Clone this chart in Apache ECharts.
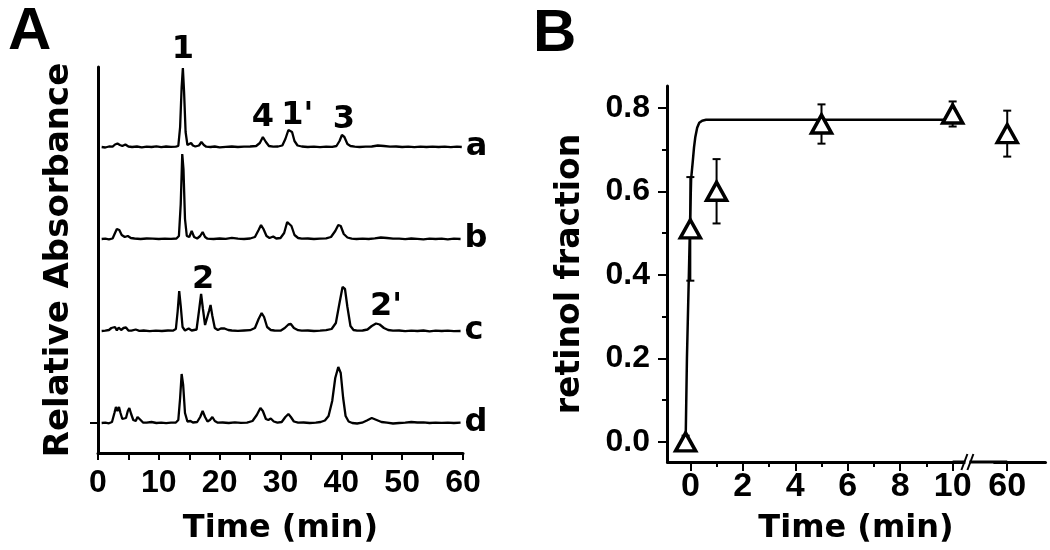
<!DOCTYPE html>
<html>
<head>
<meta charset="utf-8">
<script src="https://cdn.jsdelivr.net/npm/echarts@6.0.0/dist/echarts.min.js"></script>
<style>
  html, body { margin: 0; padding: 0; background: #fff; }
  #chart { width: 1050px; height: 550px; }
</style>
</head>
<body>
<div id="chart"></div>
<script>
// ---- panel A: HPLC traces, [time (min), signal] ----
const traceA = [[0.6,0],[1.2,-0.5],[1.8,0.5],[2.4,0.3],[2.8,2.5],[3.2,3.5],[3.6,2],[4.0,1],[4.5,2.5],[5.0,0.5],[5.6,0],[6.4,0.5],[7.2,-0.3],[8.0,0.3],[8.8,0],[9.6,0.6],[10.4,-0.2],[11.2,0.5],[12.0,0.2],[12.8,0.3],[13.2,1],[13.5,20],[13.75,60],[13.95,79],[14.15,55],[14.4,15],[14.7,2],[15.0,1],[15.3,4],[15.6,1.5],[16.0,0.5],[16.6,1.5],[17.0,5],[17.4,2],[17.8,0.3],[18.5,0],[19.2,0.5],[20,-0.3],[21,0.2],[22,0.5],[23,0],[24,0.3],[25,0.5],[26,1],[26.6,4],[27.1,10],[27.6,5],[28.1,1],[28.8,0.3],[29.6,0.5],[30.3,1.5],[30.8,8],[31.3,17],[31.6,19],[31.9,15],[32.3,6],[32.8,1.5],[33.5,0.5],[34.5,0],[35.5,0.3],[36.5,-0.2],[37.5,0.3],[38.5,0.2],[39.2,1],[39.7,6],[40.1,12],[40.5,10],[41,3],[41.5,1],[42.2,0.3],[43,0],[44,0.3],[45,0.5],[46,1.5],[47,1],[48,0.3],[49,0.5],[50,0],[51,0.4],[52,-0.2],[53,0.3],[54,0],[55,0.4],[56,0],[57,0.3],[58,-0.2],[59,0.3],[59.8,0]];
const traceB = [[0.6,0],[1.2,0.3],[1.8,-0.3],[2.4,0.5],[2.8,6],[3.1,10],[3.5,9],[3.9,4],[4.4,2],[4.9,3],[5.4,1],[6,0.5],[7,0],[8,0.5],[9,0.3],[10,0],[11,0.4],[12,0.2],[12.9,0.5],[13.3,3],[13.6,35],[13.85,85],[14.05,70],[14.3,20],[14.6,3],[15.0,2],[15.4,8],[15.8,2],[16.3,0.5],[16.8,3],[17.2,7],[17.6,2],[18.0,0.3],[19,0],[20,0.5],[21,0.2],[22,1.2],[23,0.3],[24,0],[25,0.5],[25.8,2],[26.4,9],[26.8,14],[27.2,10],[27.7,3],[28.2,1],[28.8,2.5],[29.3,0.5],[30,1],[30.6,6],[31.1,17],[31.4,19],[31.8,13],[32.3,4],[32.9,1],[33.5,0.3],[34.5,0.5],[35.5,0],[36.5,0.3],[37.5,0.6],[38.3,2],[39.0,8],[39.5,14],[39.9,13],[40.4,5],[41,1.5],[41.7,0.3],[42.5,0],[43.5,0.4],[44.5,0],[45.5,0.6],[46.5,1.5],[47.5,1],[48.5,0.3],[49.5,0.4],[50.5,-0.2],[51.5,0.5],[52.5,0.2],[53.5,-0.3],[54.5,0.4],[55.5,0],[56.5,0.3],[57.5,-0.3],[58.5,0.3],[59.6,0]];
const traceC = [[0.6,0],[1.2,0.3],[1.8,1],[2.2,3],[2.5,1],[2.8,4],[3.1,0.5],[3.4,3.5],[3.8,1],[4.2,3],[4.6,3.5],[5.0,0.5],[5.5,0.3],[6.2,1.5],[6.8,0.2],[7.5,0.5],[8.5,-0.2],[9.5,0.3],[10.5,0],[11.5,0.5],[12.3,0.3],[12.8,2],[13.1,20],[13.35,40],[13.6,25],[13.9,4],[14.3,0.5],[14.9,2.5],[15.4,0.5],[16.2,1.5],[16.6,20],[16.95,37],[17.25,22],[17.6,6],[17.9,8],[18.25,20],[18.5,26],[18.8,15],[19.2,3],[19.7,1],[20.2,2.5],[20.8,2.5],[21.4,1],[22,0.5],[23,0.2],[24,0.5],[25,0.8],[25.8,3],[26.4,12],[26.9,18],[27.3,14],[27.8,4],[28.4,1],[29,0.5],[30,0.3],[30.7,3],[31.3,6.5],[31.7,7],[32.2,3],[32.9,0.8],[33.5,0.3],[34.5,0.5],[35.5,0],[36.5,0.3],[37.5,0.8],[38.4,2],[39.1,8],[39.7,28],[40.2,44],[40.6,42],[41,24],[41.5,5],[42,1],[42.6,0.3],[43.5,0.5],[44.3,1.5],[45,5],[45.7,7.5],[46.3,6.5],[47,3],[47.7,1],[48.5,0.3],[49.5,0.5],[50.5,-0.2],[51.5,0.4],[52.5,0],[53.5,0.5],[54.5,-0.3],[55.5,0.3],[56.5,0],[57.5,0.4],[58.5,-0.2],[59.6,0]];
const traceD = [[0.6,0],[1.2,0.3],[1.8,-0.3],[2.3,1],[2.7,10],[2.95,16],[3.2,12],[3.45,16],[3.7,10],[4.0,4],[4.3,3],[4.6,5],[4.9,12],[5.15,15],[5.45,9],[5.8,3],[6.2,2],[6.5,6],[6.75,8],[7.0,3],[7.4,0.5],[8,0.3],[8.8,1],[9.6,0],[10.4,0.4],[11.2,-0.2],[12,0.3],[12.8,0.5],[13.2,3],[13.5,25],[13.75,49],[14.0,38],[14.3,10],[14.7,1.5],[15.2,2],[15.6,0.5],[16.3,1],[16.8,6],[17.2,12],[17.6,6],[18.0,1.5],[18.4,3],[18.8,6],[19.2,2],[19.7,0.3],[20.5,0.5],[21.5,0],[22.5,0.6],[23.5,0.2],[24.5,0.4],[25.4,2],[26.1,8],[26.7,15],[27.1,12],[27.6,4],[28.0,3],[28.4,4.5],[28.9,1.5],[29.5,0.3],[30.2,1],[30.8,6],[31.3,9],[31.7,6],[32.2,1.5],[32.9,0.3],[33.8,0.5],[34.8,0],[35.8,0.4],[36.6,1],[37.3,2.5],[37.9,7],[38.5,22],[39.0,45],[39.5,56],[39.9,50],[40.3,25],[40.7,7],[41.2,1.5],[41.8,0],[42.6,-0.5],[43.4,0.3],[44.2,2.5],[45,5],[45.8,3],[46.6,1],[47.5,0.3],[48.5,-0.5],[49.5,0],[50.5,0.3],[51.5,1],[52.5,0.5],[53.5,0.6],[54.5,0],[55.5,0.4],[56.5,0.2],[57.5,0.4],[58.5,0],[59.6,0.3]];
const traceNames = ['a', 'b', 'c', 'd'];
const traces = [traceA, traceB, traceC, traceD];
const traceOffsets = [276, 184, 92, 0];   // vertical stacking of the traces
// peak names: [text, trace, retention time]
const peakTags = [['1', 'a', 13.95], ['4', 'a', 27.1], ["1'", 'a', 31.6], ['3', 'a', 40.1], ['2', 'c', 16.95], ["2'", 'c', 45.7]];
const tagOffsets = { '1': [0, -18], '4': [0, -19], "1'": [7, -12], '3': [2, -15], '2': [2, -14], "2'": [10, -17] };

// ---- panel B: retinol fraction vs time ----
const timeB = [-0.18, 0, 1, 5, 10, 60];
const fractionB = [0.0, 0.51, 0.60, 0.761, 0.785, 0.738];
const errorB = [0.015, 0.124, 0.077, 0.047, 0.03, 0.055];
const fitT = [-0.18, -0.13, -0.06, -0.01, 0.03, 0.09, 0.14, 0.19, 0.26, 0.34, 0.45, 0.6, 10.35];
const fitY = [0.0, 0.2, 0.39, 0.53, 0.63, 0.67, 0.705, 0.73, 0.752, 0.764, 0.769, 0.771, 0.771];
const xLabelsB = [0, 2, 4, 6, 8, 10, 60];
const xMinorB = [1, 3, 5, 7, 9];
const yLabelsB = [0, 0.2, 0.4, 0.6, 0.8];
const yMinorB = [0.1, 0.3, 0.5, 0.7];

const titleFont = 'DejaVu Sans';
const tickFont = 'Liberation Sans';
const breakB = [{ start: 10.5, end: 59.5, gap: '7.5%' }];

let chart = echarts.init(document.getElementById('chart'));

let seriesA = traces.map(function (tr, i) {
  let name = traceNames[i];
  let off = traceOffsets[i];
  let tags = peakTags.filter(function (p) { return p[1] === name; }).map(function (p) {
    let pt = tr.find(function (q) { return q[0] === p[2]; });
    return {
      coord: [p[2], pt[1] + off],
      label: { formatter: p[0], offset: tagOffsets[p[0]] }
    };
  });
  return {
    name: name,
    type: 'line',
    xAxisIndex: 0,
    yAxisIndex: 0,
    data: tr.map(function (q) { return [q[0], q[1] + off]; }),
    symbol: 'none',
    clip: false,
    lineStyle: { color: '#000', width: 2.3 },
    endLabel: {
      show: true,
      formatter: name,
      distance: 4,
      color: '#000',
      fontFamily: titleFont,
      fontWeight: 'bold',
      fontSize: 32
    },
    markPoint: {
      symbol: 'circle',
      symbolSize: 0,
      silent: true,
      label: {
        show: true,
        position: 'inside',
        color: '#000',
        fontFamily: titleFont,
        fontWeight: 'bold',
        fontSize: 32
      },
      data: tags
    }
  };
});

let option = {
  animation: false,
  backgroundColor: '#fff',
  textStyle: { fontFamily: tickFont },
  grid: [
    { left: 98, top: 67, width: 365, height: 386 },
    { left: 667, top: 86, width: 378, height: 378 }
  ],
  xAxis: [
    {
      gridIndex: 0,
      type: 'value',
      min: 0,
      max: 60,
      interval: 5,
      name: 'Time (min)',
      nameLocation: 'middle',
      nameGap: 60,
      nameTextStyle: { fontFamily: titleFont, fontWeight: 'bold', fontSize: 32, color: '#000' },
      axisLine: { onZero: false, lineStyle: { color: '#000', width: 3 } },
      axisTick: { length: 7, lineStyle: { color: '#000', width: 2 } },
      axisLabel: {
        margin: 14,
        color: '#000',
        fontFamily: tickFont,
        fontWeight: 'bold',
        fontSize: 32,
        formatter: function (v) { return v % 10 === 0 ? v : ''; }
      },
      splitLine: { show: false }
    },
    {
      gridIndex: 1,
      type: 'value',
      min: -0.89,
      max: 61.44,
      breaks: breakB,
      breakArea: { show: false },
      name: 'Time (min)',
      nameLocation: 'middle',
      nameGap: 51,
      nameTextStyle: { fontFamily: titleFont, fontWeight: 'bold', fontSize: 32, color: '#000' },
      axisLine: { onZero: false, lineStyle: { color: '#000', width: 3 } },
      axisTick: { customValues: xLabelsB, length: 9, lineStyle: { color: '#000', width: 2 } },
      axisLabel: {
        customValues: xLabelsB,
        margin: 8,
        color: '#000',
        fontFamily: tickFont,
        fontWeight: 'bold',
        fontSize: 34
      },
      splitLine: { show: false }
    },
    {
      gridIndex: 1,
      type: 'value',
      position: 'bottom',
      min: -0.89,
      max: 61.44,
      breaks: breakB,
      breakArea: { show: false },
      axisLine: { show: false, onZero: false },
      axisTick: { customValues: xMinorB, length: 5, lineStyle: { color: '#000', width: 2 } },
      axisLabel: { show: false },
      splitLine: { show: false }
    }
  ],
  yAxis: [
    {
      gridIndex: 0,
      type: 'value',
      min: -30,
      max: 356,
      name: 'Relative Absorbance',
      nameLocation: 'middle',
      nameGap: 22,
      nameTextStyle: { fontFamily: titleFont, fontWeight: 'bold', fontSize: 34, color: '#000' },
      axisLine: { show: true, onZero: false, lineStyle: { color: '#000', width: 3 } },
      axisTick: { show: true, customValues: [0], length: 8, lineStyle: { color: '#000', width: 2 } },
      axisLabel: { show: false },
      splitLine: { show: false }
    },
    {
      gridIndex: 1,
      type: 'value',
      min: -0.048,
      max: 0.852,
      name: 'retinol fraction',
      nameLocation: 'middle',
      nameGap: 80,
      nameTextStyle: { fontFamily: titleFont, fontWeight: 'bold', fontSize: 33, color: '#000' },
      axisLine: { show: true, onZero: false, lineStyle: { color: '#000', width: 3 } },
      axisTick: { show: true, customValues: yLabelsB, length: 9, lineStyle: { color: '#000', width: 2 } },
      axisLabel: {
        customValues: yLabelsB,
        margin: 17,
        color: '#000',
        fontFamily: tickFont,
        fontWeight: 'bold',
        fontSize: 32,
        formatter: function (v) { return v.toFixed(1); }
      },
      splitLine: { show: false }
    },
    {
      gridIndex: 1,
      type: 'value',
      position: 'left',
      min: -0.048,
      max: 0.852,
      axisLine: { show: false, onZero: false },
      axisTick: { show: true, customValues: yMinorB, length: 5, lineStyle: { color: '#000', width: 2 } },
      axisLabel: { show: false },
      splitLine: { show: false }
    }
  ],
  series: seriesA.concat([
    {
      name: 'fit',
      type: 'line',
      xAxisIndex: 1,
      yAxisIndex: 1,
      data: fitT.map(function (t, i) { return [t, fitY[i]]; }),
      symbol: 'none',
      lineStyle: { color: '#000', width: 2.5 },
      z: 2
    },
    {
      name: 'error',
      type: 'custom',
      xAxisIndex: 1,
      yAxisIndex: 1,
      data: timeB.map(function (t, i) { return [t, fractionB[i] - errorB[i], fractionB[i] + errorB[i]]; }),
      encode: { x: 0, y: [1, 2] },
      renderItem: function (params, api) {
        let t = api.value(0);
        let p1 = api.coord([t, api.value(2)]);
        let p2 = api.coord([t, api.value(1)]);
        let w = 4;
        let st = { stroke: '#000', lineWidth: 2 };
        return {
          type: 'group',
          children: [
            { type: 'line', shape: { x1: p1[0], y1: p1[1], x2: p2[0], y2: p2[1] }, style: st },
            { type: 'line', shape: { x1: p1[0] - w, y1: p1[1], x2: p1[0] + w, y2: p1[1] }, style: st },
            { type: 'line', shape: { x1: p2[0] - w, y1: p2[1], x2: p2[0] + w, y2: p2[1] }, style: st }
          ]
        };
      },
      z: 3
    },
    {
      name: 'retinol',
      type: 'scatter',
      xAxisIndex: 1,
      yAxisIndex: 1,
      data: timeB.map(function (t, i) { return [t, fractionB[i]]; }),
      symbol: 'triangle',
      symbolSize: [20, 18],
      itemStyle: { color: '#fff', borderColor: '#000', borderWidth: 3.5, opacity: 1 },
      z: 4
    }
  ])
};

chart.setOption(option);

// axis line across the break, with a "//" mark on panel B's time axis
let p10 = chart.convertToPixel({ xAxisIndex: 1 }, 10);
let p60 = chart.convertToPixel({ xAxisIndex: 1 }, 60);
let axisY = chart.convertToPixel({ yAxisIndex: 1 }, -0.048);
let cx = p10 + 0.27 * (p60 - p10);
chart.setOption({
  graphic: [
    { type: 'text', left: 8, top: 2, style: { text: 'A', fontFamily: tickFont, fontWeight: 'bold', fontSize: 60, fill: '#000' } },
    { type: 'text', left: 533, top: 4, style: { text: 'B', fontFamily: tickFont, fontWeight: 'bold', fontSize: 60, fill: '#000' } },
    { type: 'line', shape: { x1: p10, y1: axisY, x2: p60, y2: axisY }, style: { stroke: '#000', lineWidth: 3 }, z: 99 },
    { type: 'rect', shape: { x: cx - 2, y: axisY - 3, width: 4, height: 6 }, style: { fill: '#fff' }, z: 100 },
    { type: 'line', shape: { x1: cx - 6, y1: axisY + 8, x2: cx, y2: axisY - 8 }, style: { stroke: '#000', lineWidth: 2 }, z: 101 },
    { type: 'line', shape: { x1: cx, y1: axisY + 8, x2: cx + 6, y2: axisY - 8 }, style: { stroke: '#000', lineWidth: 2 }, z: 101 }
  ]
});
</script>
</body>
</html>
